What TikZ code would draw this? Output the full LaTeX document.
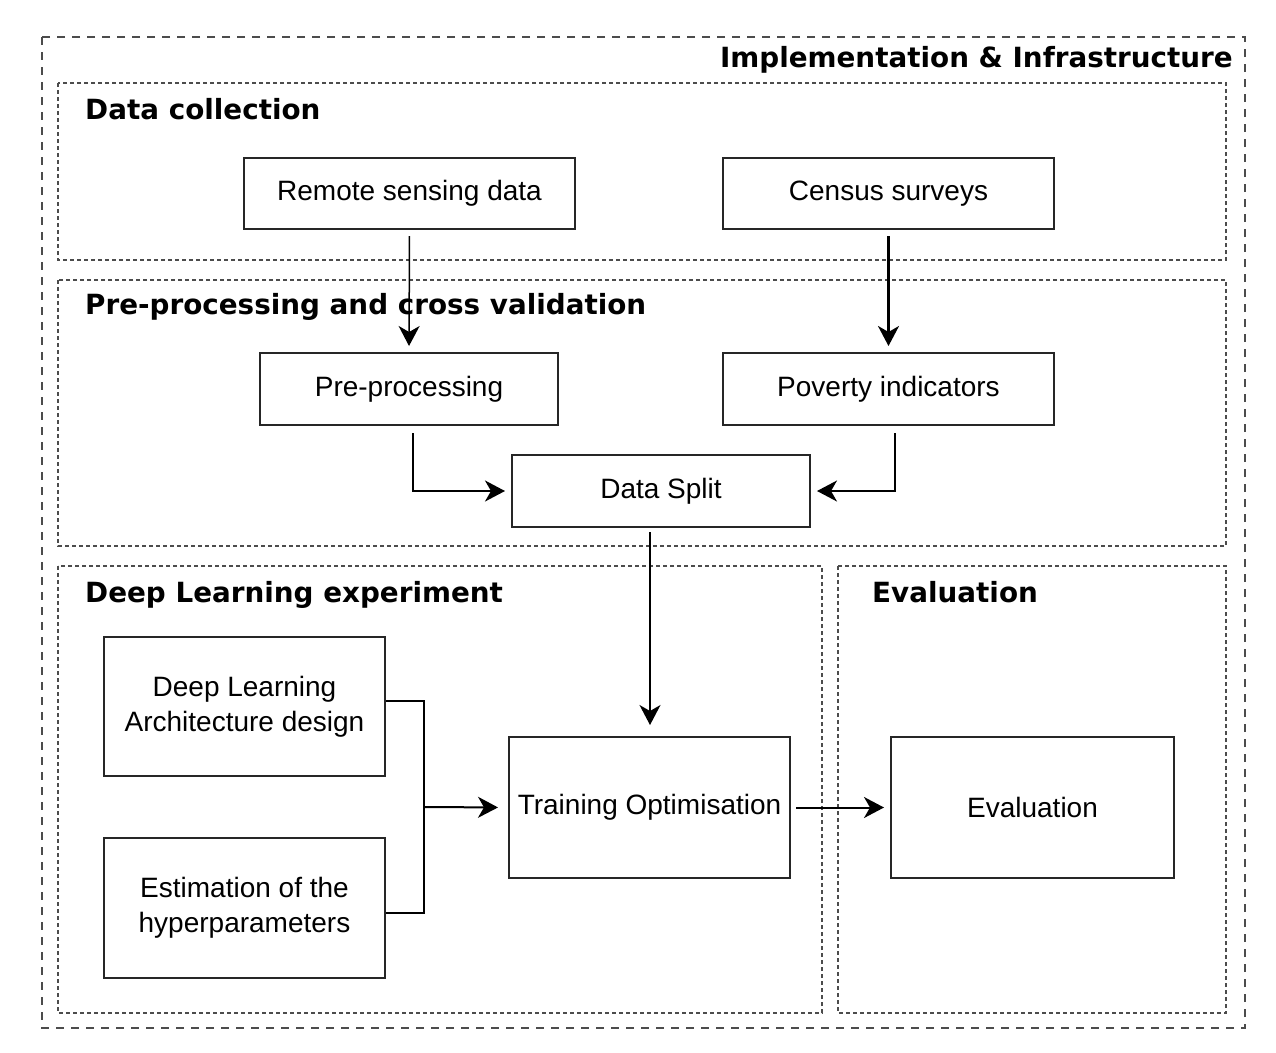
\documentclass[tikz,border=0pt]{standalone}
\usepackage{fontspec}
\setmainfont{Liberation Sans}
\newfontfamily\headfont{DejaVu Sans}
\usetikzlibrary{arrows.meta}
\begin{document}
\begin{tikzpicture}[x=1pt,y=-1pt,
  outerbox/.style={draw=black!70, line width=1.3pt, dash pattern=on 8pt off 7pt},
  groupbox/.style={draw=black!70, line width=1.3pt, dash pattern=on 4pt off 3pt},
  procbox/.style={draw=black!85, line width=2pt, fill=white, align=center, font=\fontsize{28}{35}\selectfont, inner sep=0pt},
  heading/.style={anchor=base west, font=\headfont\bfseries\fontsize{27.8}{33}\selectfont, inner sep=0pt},
  flow/.style={draw=black, line width=2pt, -{Stealth[length=20pt,width=21pt,inset=6pt]}},
  thinflow/.style={flow, line width=1.5pt},
  link/.style={draw=black, line width=2pt}
]
\useasboundingbox (0,0) rectangle (1276,1052);
\fill[white] (0,0) rectangle (1276,1052);

% containers
\draw[outerbox] (42,37) rectangle (1245,1028);
\draw[groupbox] (58,83) rectangle (1226,260);
\draw[groupbox] (58,280) rectangle (1226,546);
\draw[groupbox] (58,566) rectangle (822,1013);
\draw[groupbox] (838,566) rectangle (1226,1013);

% headings
\node[heading, anchor=base east] (hImpl) at (1233,67) {Implementation \& Infrastructure};
\node[heading] (hData) at (85,119) {Data collection};
\node[heading] (hPre) at (85,314) {Pre-processing and cross validation};
\node[heading] (hDL) at (85,602) {Deep Learning experiment};
\node[heading] (hEval) at (872,602) {Evaluation};

% process boxes
\node[procbox, minimum width=331pt, minimum height=71pt] (remote) at (409.5,193.5) {Remote sensing data};
\node[procbox, minimum width=331pt, minimum height=71pt] (census) at (888.5,193.5) {Census surveys};
\node[procbox, minimum width=298pt, minimum height=72pt] (pre) at (409,389) {Pre-processing};
\node[procbox, minimum width=331pt, minimum height=72pt] (pov) at (888.5,389) {Poverty indicators};
\node[procbox, minimum width=298pt, minimum height=72pt] (split) at (661,491) {Data Split};
\node[procbox, minimum width=281pt, minimum height=139pt] (arch) at (244.5,706.5) {Deep Learning\\Architecture design};
\node[procbox, minimum width=281pt, minimum height=140pt] (est) at (244.5,908) {Estimation of the\\hyperparameters};
\node[procbox, minimum width=281pt, minimum height=141pt] (train) at (649.5,807.5) {Training Optimisation};
\node[procbox, minimum width=283pt, minimum height=141pt] (evalbox) at (1032.5,807.5) {Evaluation};

% connectors
\draw[thinflow, shorten <=6pt, shorten >=6pt] (remote.south) -- (pre.north);
\draw[flow, line width=2.4pt, shorten <=6pt, shorten >=6pt] (census.south) -- (pov.north);
\draw[flow, shorten <=7pt, shorten >=6pt] ([xshift=4pt]pre.south) |- (split.west);
\draw[flow, shorten <=7pt, shorten >=6pt] ([xshift=6.5pt]pov.south) |- (split.east);
\draw[thinflow, shorten <=5pt, shorten >=12pt] (650,527) -- (650,737);
\coordinate (junction) at (424,807);
\draw[link] ([yshift=5.5pt]arch.east) -| (junction);
\draw[link] ([yshift=-5pt]est.east) -| (junction);
\draw[flow, shorten >=10pt] (junction) -- (train.west);
\draw[flow, shorten <=5pt, shorten >=6pt] (train.east) -- (evalbox.west);
\end{tikzpicture}
\end{document}
